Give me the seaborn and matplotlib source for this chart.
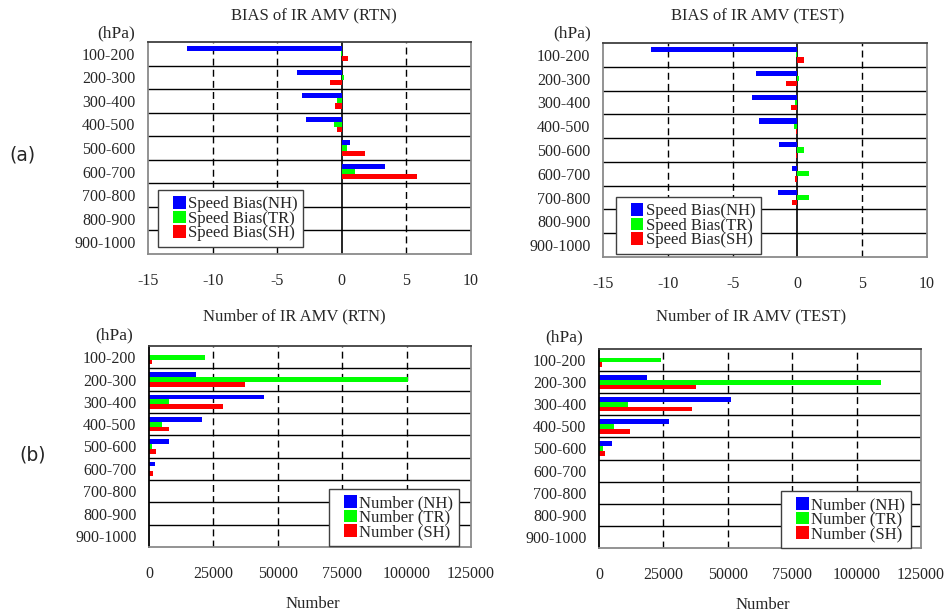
import matplotlib
matplotlib.use('Agg')
import numpy as np
import pandas as pd
import seaborn as sns
import matplotlib.pyplot as plt
import matplotlib.patches as mpatches
from matplotlib.legend_handler import HandlerPatch

levels = ["100-200", "200-300", "300-400", "400-500", "500-600",
          "600-700", "700-800", "800-900", "900-1000"]

# speed bias, RTN
bias_rtn_nh = [-12.0, -3.5, -3.1, -2.8, 0.64, 3.33, 0, 0, 0]
bias_rtn_tr = [-0.1, 0.15, -0.36, -0.6, 0.4, 1.0, 0, 0, 0]
bias_rtn_sh = [0.46, -0.9, -0.5, -0.4, 1.8, 5.85, 0, 0, 0]
# speed bias, TEST
bias_test_nh = [-11.3, -3.2, -3.5, -3.0, -1.4, -0.4, -1.5, 0, 0]
bias_test_tr = [-0.1, 0.1, -0.18, -0.26, 0.5, 0.9, 0.9, 0, 0]
bias_test_sh = [0.5, -0.87, -0.5, -0.1, -0.1, -0.18, -0.4, 0, 0]
# number, RTN
num_rtn_nh = [0, 18300, 44700, 20600, 7800, 2300, 0, 0, 0]
num_rtn_tr = [21800, 100500, 7800, 4900, 1200, 0, 0, 0, 0]
num_rtn_sh = [1000, 37300, 28800, 7800, 2700, 1500, 0, 0, 0]
# number, TEST
num_test_nh = [0, 18800, 51400, 27300, 5200, 0, 0, 0, 0]
num_test_tr = [24000, 109600, 11300, 6000, 1700, 0, 0, 0, 0]
num_test_sh = [1300, 37800, 36200, 12200, 2500, 0, 0, 0, 0]

bias_labels = ["Speed Bias(NH)", "Speed Bias(TR)", "Speed Bias(SH)"]
num_labels = ["Number (NH)", "Number (TR)", "Number (SH)"]
colors = ["#0000FF", "#00FF00", "#FF0000"]

sns.set_style("white")
plt.rcParams['font.family'] = ['Liberation Serif', 'DejaVu Serif']
plt.rcParams['axes.unicode_minus'] = False
FS = 11.5


def long_df(series, labels):
    rows = []
    for vals, lab in zip(series, labels):
        for lev, v in zip(levels, vals):
            rows.append({"level": lev, "value": v, "series": lab})
    return pd.DataFrame(rows)


def square(legend, orig_handle, xdescent, ydescent, width, height, fontsize):
    s = 12.5 * 72 / 100  # about 12 px square, right-aligned in handle box
    return mpatches.Rectangle((width - s - xdescent, -ydescent + (height - s) / 2), s, s)


def panel(fig, rect, df, labels, xlim, xticks, grid, is_bias, leg_anchor, leg_loc):
    ax = fig.add_axes(rect)
    sns.barplot(data=df, x="value", y="level", hue="series", order=levels,
                hue_order=labels, palette=colors, orient="h", width=0.65,
                linewidth=0, saturation=1, ax=ax, legend=True)
    ax.set_xlim(*xlim)
    ax.set_ylim(len(levels) - 0.5, -0.5)
    ax.set_xticks(xticks)
    ax.set_xticklabels([str(t) for t in xticks], fontsize=FS)
    ax.set_yticks(range(len(levels)))
    ax.set_yticklabels(levels, fontsize=FS)
    ax.tick_params(axis='y', length=0, pad=9)
    ax.tick_params(axis='x', length=0, pad=14)
    ax.set_xlabel("")
    ax.set_ylabel("")
    for k in range(len(levels) - 1):
        ax.axhline(k + 0.5, color="black", lw=1, zorder=0.5)
    for g in grid:
        ax.axvline(g, color="black", lw=1, ls=(0, (5, 3)), zorder=0.5)
    for s in ["left", "right", "bottom"]:
        ax.spines[s].set_color("#8a8a8a")
        ax.spines[s].set_linewidth(1.3)
    ax.spines["top"].set_color("#404040")
    ax.spines["top"].set_linewidth(1.3)
    if is_bias:
        ax.axvline(0, color="black", lw=1.2, zorder=0.6)
    else:
        ax.spines["left"].set_color("black")
    handles, labs = ax.get_legend_handles_labels()
    leg = ax.legend(handles, labs, loc=leg_loc, bbox_to_anchor=leg_anchor,
                    borderaxespad=0, fontsize=12, frameon=True, fancybox=False,
                    edgecolor="#404040", framealpha=1, labelspacing=-0.1,
                    handlelength=1.3, handleheight=0.8, handletextpad=0.15,
                    borderpad=0.35,
                    handler_map={mpatches.Rectangle: HandlerPatch(patch_func=square)})
    leg.get_frame().set_linewidth(1.0)
    return ax


fig = plt.figure(figsize=(9.44, 6.15), dpi=100)
W, H = 944, 615


def rect(x0, y0, x1, y1):
    return [x0 / W, (H - y1) / H, (x1 - x0) / W, (y1 - y0) / H]


bias_ticks = [-15, -10, -5, 0, 5, 10]
num_ticks = [0, 25000, 50000, 75000, 100000, 125000]

panel(fig, rect(148, 42, 471, 254),
      long_df([bias_rtn_nh, bias_rtn_tr, bias_rtn_sh], bias_labels), bias_labels,
      (-15, 10), bias_ticks, [-10, -5, 5], True, (0.031, 0.033), "lower left")
panel(fig, rect(603, 43, 927, 257),
      long_df([bias_test_nh, bias_test_tr, bias_test_sh], bias_labels), bias_labels,
      (-15, 10), bias_ticks, [-10, -5, 5], True, (0.04, 0.014), "lower left")
panel(fig, rect(149, 346, 471, 547),
      long_df([num_rtn_nh, num_rtn_tr, num_rtn_sh], num_labels), num_labels,
      (0, 125000), num_ticks, [25000, 50000, 75000, 100000], False, (0.963, 0.005), "lower right")
panel(fig, rect(599, 349, 921, 548),
      long_df([num_test_nh, num_test_tr, num_test_sh], num_labels), num_labels,
      (0, 125000), num_ticks, [25000, 50000, 75000, 100000], False, (0.969, 0.0), "lower right")


def ftext(x, y, s, ha="center", size=12, **kw):
    fig.text(x / W, 1 - y / H, s, ha=ha, va="center", fontsize=size, **kw)


ftext(314, 16, "BIAS of IR AMV (RTN)")
ftext(758, 16, "BIAS of IR AMV (TEST)")
ftext(294, 316, "Number of IR AMV (RTN)")
ftext(751, 316, "Number of IR AMV (TEST)")
ftext(135, 33, "(hPa)", ha="right", size=12.5)
ftext(591, 33, "(hPa)", ha="right", size=12.5)
ftext(133, 335, "(hPa)", ha="right", size=12.5)
ftext(583, 337, "(hPa)", ha="right", size=12.5)
ftext(313, 604, "Number")
ftext(763, 605, "Number")
ftext(22, 155, "(a)", size=13.5, family=["DejaVu Sans"])
ftext(33, 455, "(b)", size=13.5, family=["DejaVu Sans"])

fig.savefig("out.png", dpi=100)
